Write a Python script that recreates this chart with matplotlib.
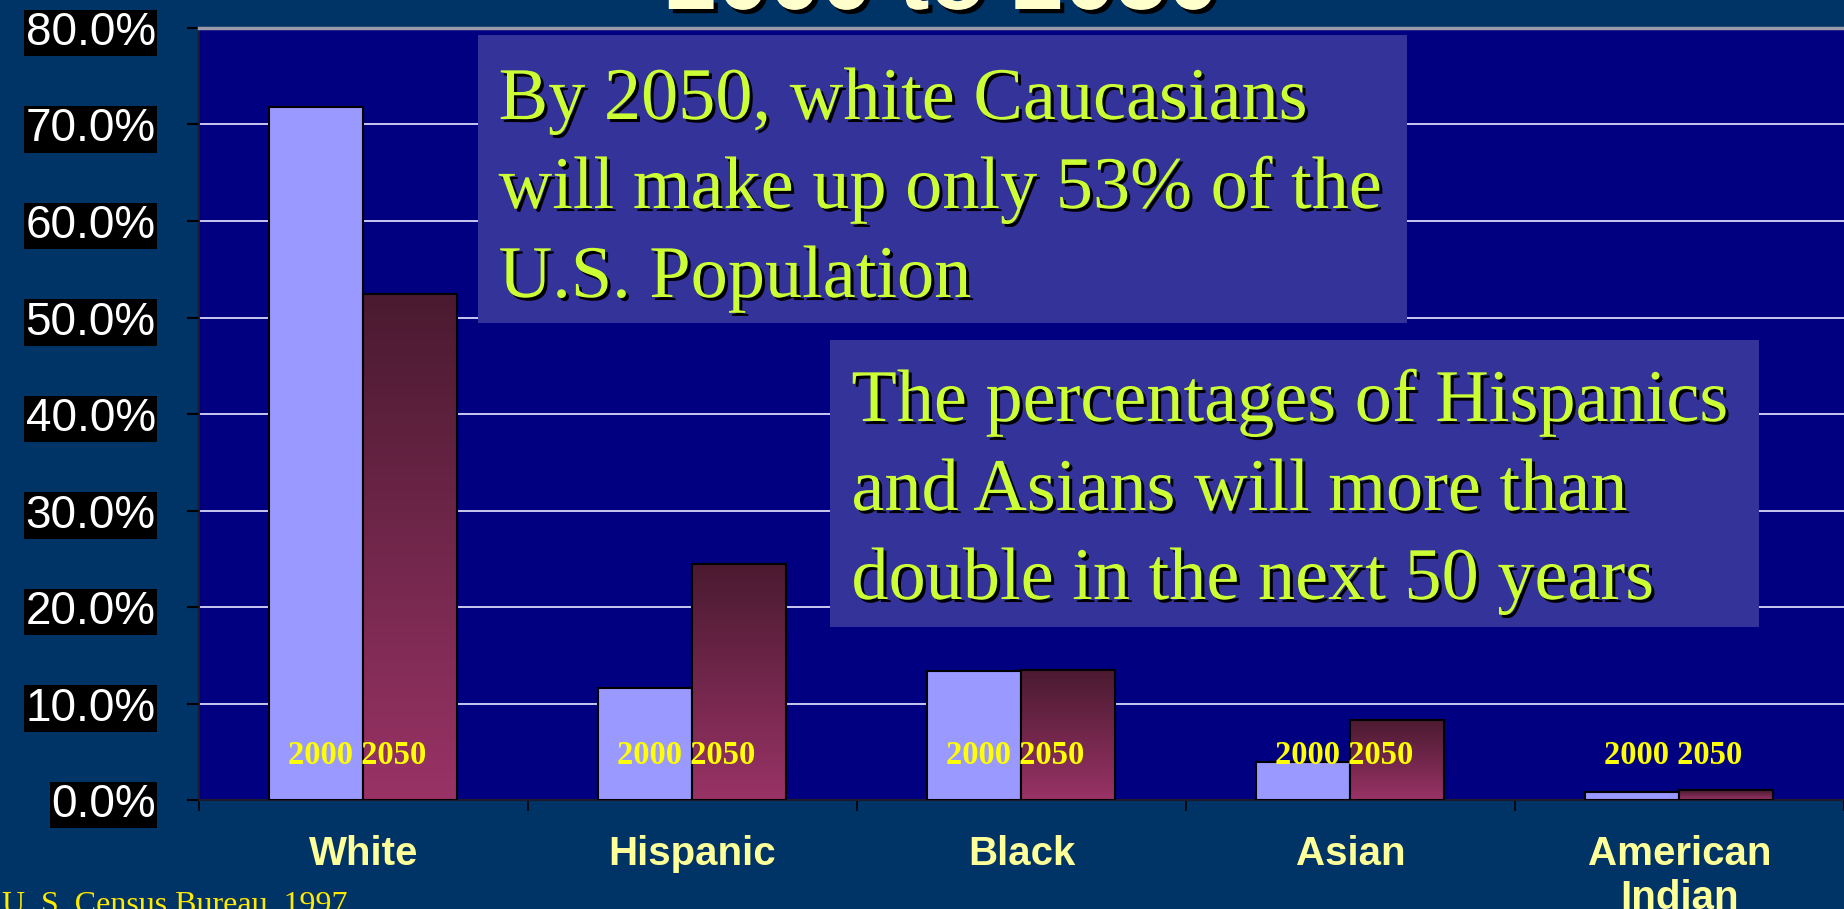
import numpy as np
import matplotlib
matplotlib.use("Agg")
import matplotlib.pyplot as plt
import matplotlib.patheffects as pe
from matplotlib.colors import LinearSegmentedColormap
from matplotlib.patches import Rectangle

# --- data ---
categories = ['White', 'Hispanic', 'Black', 'Asian', 'American\nIndian']
pct_2000 = [71.8, 11.6, 13.4, 3.9, 0.8]
pct_2050 = [52.4, 24.5, 13.5, 8.3, 1.0]
year_labels = ['2000', '2050']
y_ticks = [0, 10, 20, 30, 40, 50, 60, 70, 80]

title_text = '2000 to 2050'
note1_lines = ['By 2050, white Caucasians',
               'will make up only 53% of the',
               'U.S. Population']
note2_lines = ['The percentages of Hispanics',
               'and Asians will more than',
               'double in the next 50 years']
source_text = 'U. S. Census Bureau, 1997'

# colours
FIG_BG = '#003366'
PLOT_BG = '#000080'
BAR_2000 = '#9999FF'
GRAD = LinearSegmentedColormap.from_list('g2050', ['#993366', '#4A1A30'])
BOX_BG = '#333399'
NOTE_COL = '#CCFF33'

SANS = ['Liberation Sans', 'DejaVu Sans']
SERIF = ['Liberation Serif', 'DejaVu Serif']

W, H = 1844, 909
fig = plt.figure(figsize=(W / 100, H / 100), dpi=100, facecolor=FIG_BG)
ax = fig.add_axes([0.1078, 0.1199, 1 - 0.1078, 0.9692 - 0.1199])
ax.set_facecolor(PLOT_BG)

x = np.arange(len(categories))
bw = 0.2857

ax.bar(x, pct_2000, width=-bw, align='edge', color=BAR_2000,
       edgecolor='black', linewidth=1.5, zorder=3)
bars50 = ax.bar(x, pct_2050, width=bw, align='edge', facecolor='none',
                edgecolor='black', linewidth=1.5, zorder=4)

# vertical gradient inside every 2050 bar
grad = np.linspace(0, 1, 256).reshape(-1, 1)
for b in bars50:
    x0, y0 = b.get_x(), b.get_y()
    im = ax.imshow(grad, cmap=GRAD, aspect='auto', origin='lower',
                   extent=(x0, x0 + b.get_width(), y0, y0 + b.get_height()),
                   zorder=3.5, interpolation='bilinear')
    im.set_clip_path(b)

ax.set_xlim(-0.5, len(categories) - 0.5)
ax.set_ylim(0, 80)

# grid
ax.set_yticks(y_ticks)
ax.yaxis.grid(True, color='#C8C8F0', linewidth=1.4, zorder=1)
ax.set_axisbelow(True)

ax.set_yticklabels([f'{v:.1f}%' for v in y_ticks], fontsize=33,
                   color='white', family=SANS)
for lab in ax.get_yticklabels():
    lab.set_bbox(dict(facecolor='black', edgecolor='none', pad=1.0))
ax.tick_params(axis='y', length=9, width=1.5, color='black', pad=22)

ax.set_xticks(x)
ax.set_xticklabels(categories, fontsize=29, fontweight='bold',
                   color='#FFFF99', family=SANS)
ax.tick_params(axis='x', which='major', length=0, pad=25)
ax.set_xticks(np.arange(len(categories) + 1) - 0.5, minor=True)
ax.tick_params(axis='x', which='minor', length=8, width=1.2, color='black')

for s in ['left', 'bottom']:
    ax.spines[s].set_color('#1a1a2a')
    ax.spines[s].set_linewidth(1.5)
ax.spines['top'].set_color('#9a9aaa')
ax.spines['top'].set_linewidth(2.5)
ax.spines['right'].set_visible(False)

# year labels in each group
for xi in x:
    ax.text(xi - 0.018, 3.7, ' '.join(year_labels), ha='center',
            va='baseline', fontsize=23.5, fontweight='bold', color='#FFFF00',
            family=SERIF, zorder=6)

# title (cut off at top of slide)
fig.text(0.511, 1 - 9 / H, title_text, ha='center', va='baseline',
         fontsize=67, fontweight='bold', color='#FFFFCC', family=SANS,
         path_effects=[pe.withSimplePatchShadow(offset=(3, -3),
                                                shadow_rgbFace='black',
                                                alpha=1.0)])

# note boxes
shadow = [pe.withSimplePatchShadow(offset=(2.2, -2.2), shadow_rgbFace='black',
                                   alpha=1.0)]


def note_box(px0, py0, px1, py1, lines, tx, baselines):
    fig.patches.append(Rectangle((px0 / W, 1 - py1 / H), (px1 - px0) / W,
                                 (py1 - py0) / H, transform=fig.transFigure,
                                 facecolor=BOX_BG, edgecolor='none',
                                 zorder=5))
    for line, yb in zip(lines, baselines):
        fig.text(tx / W, 1 - yb / H, line, ha='left', va='baseline',
                 fontsize=53.5, color=NOTE_COL, family=SERIF, zorder=6,
                 path_effects=shadow)


note_box(477.5, 35, 1406.6, 322.5, note1_lines, 498.6, [119, 208, 297])
note_box(830.2, 340, 1759.3, 627, note2_lines, 851.4, [421, 510, 599])

fig.text(2 / W, -4 / H, source_text, ha='left', va='baseline', fontsize=23,
         color='#FFEA00', family=SERIF)

fig.savefig('out.png', dpi=100, facecolor=FIG_BG)
